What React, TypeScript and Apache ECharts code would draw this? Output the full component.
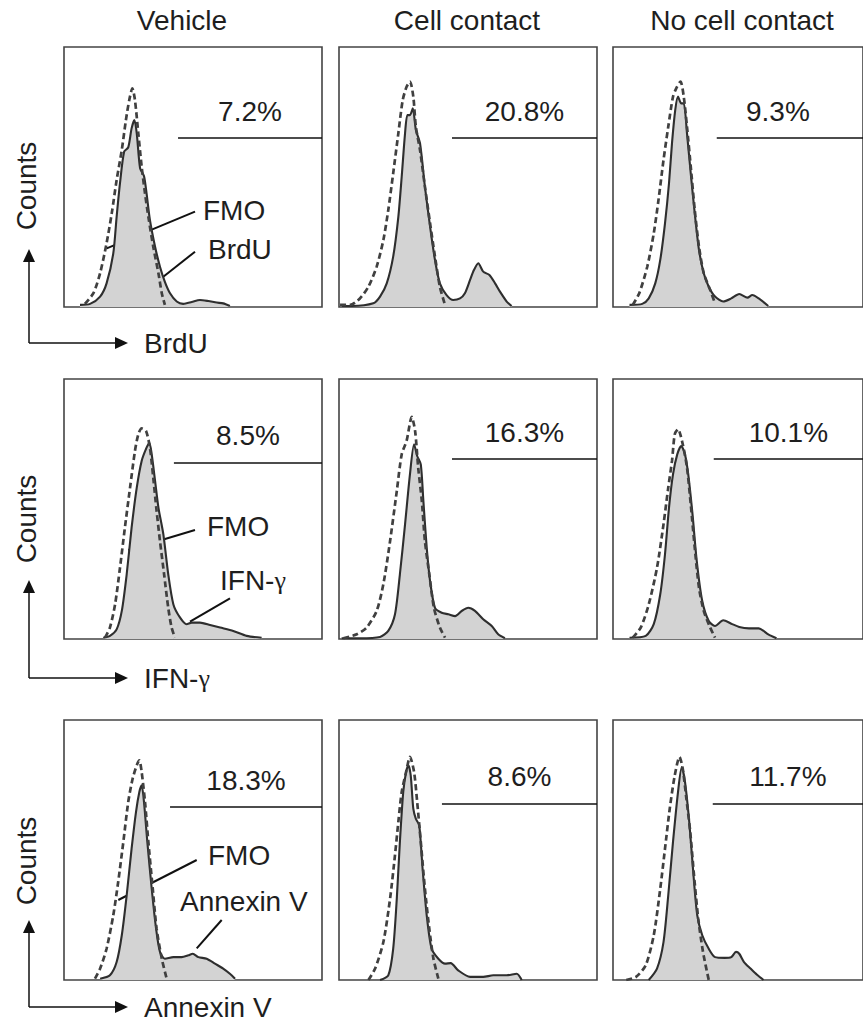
import React, { useEffect, useRef } from "react";
import * as echarts from "echarts";

// ---------- data ----------
const columnTitles = ["Vehicle", "Cell contact", "No cell contact"];
const markers = ["BrdU", "IFN-γ", "Annexin V"];
const percentages = [
  ["7.2%", "20.8%", "9.3%"],
  ["8.5%", "16.3%", "10.1%"],
  ["18.3%", "8.6%", "11.7%"],
];
// gate (marker-positive region): level on counts axis and start on fluorescence axis
const gateLevels = [
  [65.0, 65.0, 65.0],
  [67.7, 69.2, 69.2],
  [66.5, 67.7, 67.7],
];
const gateStarts = [
  [44.2, 43.8, 41.5],
  [42.6, 43.8, 40.3],
  [41.1, 39.9, 39.9],
];

// [fluorescence (0-100), counts (% of panel max)]
const vehicleBrdU = [[6.2,0.8],[10.1,1.2],[14.0,4.0],[16.5,9.1],[19.1,20.6],[20.4,34.7],[21.7,47.6],[23.3,59.7],[24.9,61.4],[26.2,68.7],[27.3,71.9],[28.2,66.8],[29.5,53.3],[31.0,50.4],[32.0,43.7],[33.3,33.5],[35.3,23.2],[37.2,15.5],[39.1,9.7],[41.1,5.3],[43.7,2.1],[46.2,1.2],[49.5,1.9],[52.7,2.7],[55.9,2.3],[59.2,1.7],[61.7,1.4],[64.3,0.4]];
const vehicleBrdUFmo = [[8.1,1.2],[11.4,5.3],[14.0,13.0],[16.5,24.5],[18.5,36.0],[20.4,48.8],[22.4,60.4],[24.0,71.9],[25.3,79.6],[26.5,84.1],[27.5,79.6],[28.8,66.8],[30.1,54.0],[31.4,43.7],[32.7,34.7],[34.6,23.2],[36.6,13.0],[37.9,5.3],[39.1,0.8]];
const contactBrdU = [[1.0,0.4],[5.0,0.4],[13.3,1.4],[15.9,4.0],[18.5,9.1],[21.0,19.4],[23.0,34.7],[24.3,50.1],[25.6,66.8],[26.5,73.8],[27.5,73.8],[28.6,76.4],[29.8,68.1],[31.4,63.0],[33.3,46.3],[35.3,30.9],[37.2,18.1],[39.1,9.1],[41.7,4.6],[44.3,2.7],[46.9,3.3],[48.8,5.3],[50.8,10.4],[52.3,14.2],[54.0,16.8],[55.9,13.6],[58.3,12.3],[60.5,9.1],[62.4,5.9],[65.0,2.1],[66.9,0.4]];
const contactBrdUFmo = [[0.4,0.8],[4.3,0.8],[8.1,3.3],[11.4,7.8],[14.6,15.5],[17.2,25.8],[19.1,37.3],[21.0,51.4],[23.0,66.8],[24.7,79.6],[26.2,84.7],[27.5,86.7],[28.8,80.9],[29.8,69.3],[31.4,60.4],[33.3,46.3],[35.3,32.2],[37.2,19.4],[39.1,7.8],[41.1,0.8]];
const noContactBrdU = [[6.6,0.8],[11.7,1.2],[14.3,3.3],[16.9,9.1],[18.9,18.1],[20.8,32.2],[22.4,47.6],[23.6,63.0],[24.9,75.8],[26.0,80.9],[27.3,78.3],[28.3,78.3],[29.6,66.8],[31.1,51.4],[32.7,36.0],[34.4,21.9],[36.3,13.0],[38.3,7.8],[40.8,4.0],[44.1,2.1],[47.3,3.3],[50.5,5.0],[53.8,3.6],[55.7,4.6],[58.3,3.3],[62.1,0.4]];
const noContactBrdUFmo = [[7.9,0.8],[10.5,5.3],[13.7,15.5],[16.3,28.3],[18.2,41.2],[20.2,56.5],[22.1,69.3],[24.0,80.9],[25.3,84.1],[27.0,86.7],[28.3,80.9],[29.6,69.3],[31.1,54.0],[32.7,37.3],[34.4,23.2],[36.3,13.0],[38.9,6.5],[40.8,1.4]];

const vehicleIfng = [[15.2,0.5],[17.8,1.2],[20.4,3.7],[22.4,10.8],[24.3,24.9],[26.2,42.8],[28.2,58.2],[30.1,68.5],[32.0,73.6],[33.1,75.5],[34.0,71.0],[35.3,60.8],[36.6,50.5],[38.5,40.3],[40.4,24.9],[42.4,13.3],[45.0,8.2],[47.5,5.7],[49.5,6.3],[52.7,6.3],[56.6,5.4],[60.5,4.4],[65.6,3.1],[70.8,1.2],[76.6,0.5]];
const vehicleIfngFmo = [[15.9,0.5],[17.8,4.4],[19.8,13.3],[21.7,27.4],[23.6,42.8],[25.6,58.2],[27.5,72.3],[28.8,78.7],[30.1,81.0],[31.8,80.0],[33.3,73.6],[34.6,62.0],[35.9,49.2],[37.2,37.7],[38.8,24.9],[40.4,12.0],[41.7,4.4],[43.0,0.5]];
const contactIfng = [[1.0,0.3],[8.0,0.3],[15.9,0.8],[19.1,3.1],[21.7,9.5],[23.6,24.9],[25.6,44.1],[27.5,63.3],[29.1,74.9],[30.3,70.4],[31.7,67.2],[32.7,53.1],[34.0,35.1],[35.3,22.3],[37.2,12.0],[39.8,10.1],[42.4,9.5],[45.0,8.8],[47.6,10.8],[50.1,12.0],[52.7,10.8],[55.9,7.6],[59.2,5.0],[61.7,1.8],[64.3,0.3]];
const contactIfngFmo = [[1.7,0.3],[6.9,1.8],[10.7,4.4],[14.6,10.8],[17.2,21.1],[19.8,37.7],[22.4,56.9],[24.3,71.0],[26.2,76.2],[28.2,85.4],[29.5,80.0],[30.7,65.9],[32.1,53.1],[33.3,37.7],[35.0,24.9],[36.8,12.0],[39.1,4.4],[41.1,0.5]];
const noContactIfng = [[6.6,0.5],[13.1,1.2],[16.3,5.7],[18.9,17.2],[20.8,32.6],[22.4,50.5],[24.0,63.3],[25.7,71.0],[27.3,74.2],[28.8,71.0],[30.1,63.3],[31.8,48.0],[33.5,30.0],[35.7,14.6],[38.3,6.9],[40.8,5.0],[44.1,7.2],[47.3,5.9],[50.5,4.6],[54.4,4.1],[58.3,4.1],[62.1,1.8],[65.4,0.3]];
const noContactIfngFmo = [[7.9,0.5],[11.1,4.4],[14.3,13.3],[17.6,27.4],[20.2,44.1],[22.1,58.2],[23.6,68.5],[24.7,78.7],[26.0,80.7],[27.9,74.9],[29.6,65.9],[31.1,51.8],[32.7,35.1],[34.4,19.7],[36.3,10.8],[38.6,5.0],[40.8,0.5]];

const vehicleAnnexin = [[14.0,0.5],[17.8,1.8],[20.4,6.9],[22.4,17.2],[24.3,32.6],[26.2,50.5],[27.9,64.6],[29.2,72.3],[30.1,74.9],[31.0,68.5],[32.3,53.1],[34.0,35.1],[35.7,19.7],[37.2,10.8],[39.1,8.2],[42.4,8.8],[45.6,8.8],[48.2,9.5],[49.9,10.1],[52.1,8.8],[55.3,8.2],[58.5,6.3],[61.7,4.4],[64.3,2.4],[66.3,0.5]];
const vehicleAnnexinFmo = [[12.0,0.5],[14.0,4.4],[16.5,12.0],[19.1,24.9],[21.0,37.7],[23.0,53.1],[24.9,68.5],[26.6,77.4],[28.2,82.6],[29.2,84.5],[30.1,80.0],[31.4,68.5],[32.7,53.1],[34.4,35.1],[35.9,19.7],[37.9,8.2],[39.8,0.5]];
const contactAnnexin = [[15.9,0],[19.1,1.8],[21.0,12.0],[22.4,31.3],[23.6,53.1],[24.9,72.3],[26.0,80.0],[26.9,82.6],[27.8,78.7],[28.8,65.9],[29.8,62.0],[31.1,59.5],[32.4,42.8],[34.0,24.9],[35.9,12.0],[38.5,8.2],[41.1,6.3],[43.3,6.5],[46.2,3.7],[50.8,1.2],[55.9,1.2],[59.8,1.8],[65.0,1.8],[68.9,2.4],[70.8,0]];
const contactAnnexinFmo = [[11.4,0],[14.0,4.4],[17.2,14.6],[19.8,31.3],[21.7,48.0],[23.0,60.8],[24.3,72.3],[26.0,80.0],[27.5,85.8],[29.1,80.0],[30.3,68.5],[31.7,53.1],[33.3,35.1],[35.0,19.7],[36.6,8.2],[38.5,0.5]];
const noContactAnnexin = [[14.3,0],[17.6,4.4],[20.2,14.6],[22.1,32.6],[24.0,53.1],[26.0,72.3],[27.5,81.9],[28.8,76.2],[30.5,60.8],[32.2,40.3],[33.7,24.9],[35.7,17.2],[38.3,12.0],[40.8,8.8],[44.7,8.5],[47.3,8.8],[49.2,10.8],[50.5,10.1],[52.4,6.9],[55.0,4.4],[57.6,2.0],[60.2,0]];
const noContactAnnexinFmo = [[5.3,0],[9.2,1.2],[13.1,5.7],[16.3,17.2],[18.9,35.1],[20.8,50.5],[22.7,65.9],[24.7,78.7],[26.6,85.8],[27.9,81.3],[29.2,71.0],[30.9,56.9],[32.4,40.3],[34.1,23.6],[36.0,10.8],[38.3,0]];

const samples = [
  [vehicleBrdU, contactBrdU, noContactBrdU],
  [vehicleIfng, contactIfng, noContactIfng],
  [vehicleAnnexin, contactAnnexin, noContactAnnexin],
];
const fmos = [
  [vehicleBrdUFmo, contactBrdUFmo, noContactBrdUFmo],
  [vehicleIfngFmo, contactIfngFmo, noContactIfngFmo],
  [vehicleAnnexinFmo, contactAnnexinFmo, noContactAnnexinFmo],
];

// ---------- layout ----------
const FONT = '"Liberation Sans", Arial, Helvetica, sans-serif';
const SERIF = '"Liberation Serif", "Times New Roman", serif';
const TEXT = "#1e1e1e";
const LINE = "#2e2e2e";
const DASH = "#404040";
const FILL = "#d3d3d3";
const FS = 28;
const colLeft = [64, 339, 613];
const rowTop = [47, 379, 720];
const PW = 258;
const PH = 260;

function richLabel(s: string) {
  if (s.includes("γ")) return "{a|" + s.replace("γ", "") + "}{g|γ}";
  return "{a|" + s + "}";
}
const richStyles = {
  a: { fontFamily: FONT, fontSize: FS, fill: TEXT, color: TEXT },
  g: { fontFamily: SERIF, fontSize: FS - 2, fill: TEXT, color: TEXT },
};

function txt(x: number, y: number, s: string, opts: any = {}) {
  return {
    type: "text",
    x,
    y,
    rotation: opts.rotation || 0,
    silent: true,
    style: {
      text: richLabel(s),
      rich: richStyles,
      fontFamily: FONT,
      fontSize: FS,
      fill: TEXT,
      align: opts.align || "left",
      verticalAlign: "middle",
    },
  };
}
function seg(x1: number, y1: number, x2: number, y2: number, w = 2) {
  return {
    type: "line",
    silent: true,
    shape: { x1, y1, x2, y2 },
    style: { stroke: "#111", lineWidth: w },
  };
}
function tri(points: number[][]) {
  return { type: "polygon", silent: true, shape: { points }, style: { fill: "#111" } };
}

export default function App() {
  const ref = useRef<HTMLDivElement>(null);
  useEffect(() => {
    if (!ref.current) return;
    const chart = echarts.init(ref.current, undefined, { renderer: "svg" });
    const grids: any[] = [];
    const xAxes: any[] = [];
    const yAxes: any[] = [];
    const series: any[] = [];
    for (let r = 0; r < 3; r++) {
      for (let c = 0; c < 3; c++) {
        const i = r * 3 + c;
        grids.push({
          left: colLeft[c],
          top: rowTop[r],
          width: PW,
          height: PH,
          show: true,
          borderColor: "#444",
          borderWidth: 1.6,
          backgroundColor: "#fff",
        });
        xAxes.push({ type: "value", gridIndex: i, min: 0, max: 100, show: false });
        yAxes.push({ type: "value", gridIndex: i, min: 0, max: 100, show: false });
        series.push({
          type: "line",
          xAxisIndex: i,
          yAxisIndex: i,
          data: samples[r][c],
          smooth: 0.25,
          symbol: "none",
          silent: true,
          z: 2,
          lineStyle: { color: LINE, width: 2.1 },
          areaStyle: { color: FILL, opacity: 1 },
          markLine: {
            silent: true,
            symbol: ["none", "none"],
            animation: false,
            lineStyle: { color: "#111", width: 1.5, type: "solid" },
            label: {
              show: true,
              position: "insideMiddleTop",
              formatter: percentages[r][c],
              fontFamily: FONT,
              fontSize: FS,
              color: TEXT,
              distance: 13,
              padding: c === 2 && r === 0 ? [0, 24, 0, 0] : 0,
            },
            data: [[
              { coord: [gateStarts[r][c], gateLevels[r][c]] },
              { coord: [100, gateLevels[r][c]] },
            ]],
          },
        });
        series.push({
          type: "line",
          xAxisIndex: i,
          yAxisIndex: i,
          data: fmos[r][c],
          smooth: 0.25,
          symbol: "none",
          silent: true,
          z: 3,
          lineStyle: { color: DASH, width: 2.7, type: [6, 3.5] },
        });
      }
    }

    const graphics: any[] = [];
    // column titles
    const titleX = [182, 467, 742];
    columnTitles.forEach((t, c) => graphics.push(txt(titleX[c], 20, t, { align: "center" })));
    // row axis indicators
    const countsY = [186, 519, 861];
    const arrowTipY = [249, 580, 920];
    const cornerY = [343, 678, 1007];
    for (let r = 0; r < 3; r++) {
      graphics.push(txt(26, countsY[r], "Counts", { align: "center", rotation: Math.PI / 2 }));
      graphics.push(seg(29, cornerY[r], 29, arrowTipY[r] + 12, 1.5));
      graphics.push(tri([[23, arrowTipY[r] + 13], [35, arrowTipY[r] + 13], [29, arrowTipY[r]]]));
      graphics.push(seg(29, cornerY[r], 116, cornerY[r], 1.5));
      graphics.push(tri([[115, cornerY[r] - 6], [115, cornerY[r] + 6], [128, cornerY[r]]]));
      graphics.push(txt(144, cornerY[r], markers[r]));
    }
    // curve annotations (vehicle column)
    graphics.push(seg(106.7, 248.3, 195, 211.7));
    graphics.push(txt(203, 210, "FMO"));
    graphics.push(seg(163.3, 276.7, 195, 251.7));
    graphics.push(txt(208, 249, markers[0]));

    graphics.push(seg(128.3, 550, 195, 530));
    graphics.push(txt(207, 526, "FMO"));
    graphics.push(seg(190, 621.7, 230, 598.3));
    graphics.push(txt(220, 580, markers[1]));

    graphics.push(seg(118.3, 900, 196.7, 860));
    graphics.push(txt(208, 855, "FMO"));
    graphics.push(seg(196.7, 948.3, 221.7, 920));
    graphics.push(txt(180, 901, markers[2]));

    chart.setOption({
      animation: false,
      backgroundColor: "#fff",
      grid: grids,
      xAxis: xAxes,
      yAxis: yAxes,
      series,
      graphic: { elements: graphics },
    });
    return () => chart.dispose();
  }, []);
  return (
    <div
      ref={ref}
      style={{ position: "absolute", left: 0, top: 0, width: 863, height: 1033, background: "#fff" }}
    />
  );
}
